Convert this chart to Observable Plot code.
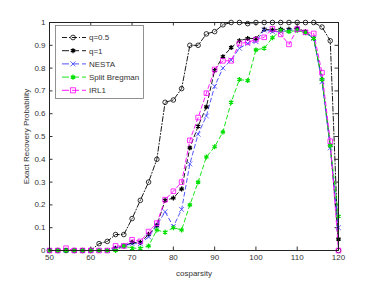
<!DOCTYPE html>
<html>
<head>
<meta charset="utf-8">
<script src="https://cdn.jsdelivr.net/npm/d3@7"></script>
<script src="https://cdn.jsdelivr.net/npm/@observablehq/plot@0.6"></script>
<style>
  html, body { margin: 0; padding: 0; background: white; }
</style>
</head>
<body>
<div id="chart"></div>
<script>
const cosparsity = [50,52,54,56,58,60,62,64,66,68,70,72,74,76,78,80,82,84,86,88,90,92,94,96,98,100,102,104,106,108,110,112,114,116,118,120];

const q05 = [0,0,0,0,0,0,0.03,0.04,0.07,0.07,0.14,0.22,0.30,0.40,0.65,0.66,0.71,0.90,0.90,0.95,0.96,0.99,1,1,0.995,1,1,1,1,1,1,1,1,0.98,0.92,0];
const q1 = [0,0,0,0,0,0,0,0,0.01,0.02,0.035,0.035,0.07,0.11,0.22,0.23,0.27,0.45,0.545,0.63,0.79,0.85,0.89,0.92,0.93,0.93,0.97,0.967,0.97,0.97,0.975,0.96,0.93,0.75,0.46,0.05];
const nesta = [0,0,0,0,0,0,0,0,0.01,0.02,0.03,0.03,0.06,0.11,0.17,0.105,0.18,0.38,0.51,0.59,0.72,0.80,0.835,0.887,0.908,0.916,0.967,0.96,0.96,0.965,0.97,0.955,0.93,0.74,0.45,0.1];
const splitBregman = [0,0,0,0,0,0,0,0,0,0.02,0.01,0.01,0.02,0.09,0.08,0.10,0.09,0.20,0.30,0.41,0.455,0.52,0.65,0.75,0.745,0.88,0.887,0.933,0.965,0.96,0.965,0.955,0.93,0.75,0.46,0.15];
const irl1 = [0,0,0.01,0,0,0,0,0,0.02,0.02,0.047,0.04,0.083,0.12,0.223,0.26,0.30,0.483,0.583,0.69,0.794,0.832,0.832,0.908,0.913,0.925,0.935,0.972,0.948,0.904,0.971,0.957,0.952,0.78,0.479,0];

const seriesNames = ["q=0.5", "q=1", "NESTA", "Split Bregman", "IRL1"];
const seriesValues = [q05, q1, nesta, splitBregman, irl1];
const seriesColors = ["#000000", "#000000", "#4040ff", "#00e000", "#ff00ff"];
const seriesSymbols = ["circle", "asterisk", "times", "asterisk", "square"];
const seriesDash = ["5,2,1,2", "4,3", "4,3", "4,3", "4,3"];

const xTicks = [50,60,70,80,90,100,110,120];
const yTicks = [0,0.1,0.2,0.3,0.4,0.5,0.6,0.7,0.8,0.9,1];
const yTickLabels = ["0","0.1","0.2","0.3","0.4","0.5","0.6","0.7","0.8","0.9","1"];

const rows = [];
seriesNames.forEach((name, i) => {
  cosparsity.forEach((c, j) => rows.push({series: name, idx: i, x: c, y: seriesValues[i][j]}));
});

const W = 374, H = 281;
const mTop = 22, mBottom = 31, mLeft = 49, mRight = 36;
const plotH = H - mTop - mBottom;
const plotW = W - mLeft - mRight;

const marks = [];
seriesNames.forEach((name, i) => {
  const data = rows.filter(r => r.idx === i);
  marks.push(Plot.line(data, {x: "x", y: "y", stroke: seriesColors[i], strokeWidth: 0.9, strokeDasharray: seriesDash[i]}));
});
seriesNames.forEach((name, i) => {
  const data = rows.filter(r => r.idx === i);
  marks.push(Plot.dot(data, {x: "x", y: "y", symbol: () => seriesSymbols[i], stroke: seriesColors[i], fill: "none", r: seriesSymbols[i] === "square" ? 2.6 : 2.3, strokeWidth: seriesSymbols[i] === "asterisk" ? 1.3 : 0.8}));
});

const chart = Plot.plot({
  width: W,
  height: H,
  marginTop: mTop,
  marginBottom: mBottom,
  marginLeft: mLeft,
  marginRight: mRight,
  style: {fontFamily: "Liberation Sans, Arial, sans-serif", fontSize: "8px", color: "#333", background: "white"},
  x: {domain: [50, 120], ticks: xTicks, tickSize: 0, tickPadding: 4, label: "cosparsity", labelArrow: "none", labelAnchor: "center", labelOffset: 25, tickFormat: d => String(d)},
  y: {domain: [0, 1], ticks: yTicks, tickSize: 0, tickPadding: 4, label: "Exact Recovery Probability", labelArrow: "none", labelAnchor: "center", labelOffset: 26, tickFormat: (d, i) => yTickLabels[i]},
  symbol: {type: "identity"},
  marks: [
    Plot.ruleX(xTicks, {x: d => d, stroke: "#333", insetTop: plotH - 3.5}),
    Plot.ruleX(xTicks, {x: d => d, stroke: "#333", insetBottom: plotH - 3.5}),
    Plot.ruleY(yTicks, {y: d => d, stroke: "#333", insetRight: plotW - 3.5}),
    Plot.ruleY(yTicks, {y: d => d, stroke: "#333", insetLeft: plotW - 3.5}),
    ...marks,
    Plot.frame({stroke: "#222", strokeWidth: 1})
  ]
});
document.getElementById("chart").appendChild(chart);

// Legend (MATLAB-style box, upper left)
const svg = d3.select(chart);
const lg = svg.append("g").attr("font-family", "Liberation Sans, Arial, sans-serif").attr("font-size", 8).attr("fill", "#333").attr("text-anchor", "start");
lg.append("rect").attr("x", 55.5).attr("y", 25.5).attr("width", 88).attr("height", 73).attr("fill", "white").attr("stroke", "#777").attr("stroke-width", 0.8);
seriesNames.forEach((name, i) => {
  const yy = 37.5 + i * 13.2;
  lg.append("line").attr("x1", 62).attr("x2", 86).attr("y1", yy).attr("y2", yy)
    .attr("stroke", seriesColors[i]).attr("stroke-width", 0.9).attr("stroke-dasharray", i === 0 ? "5,2,1,2" : "7,3");
  const sym = seriesSymbols[i] === "circle" ? d3.symbolCircle : seriesSymbols[i] === "square" ? d3.symbolSquare : seriesSymbols[i] === "times" ? d3.symbolTimes : d3.symbolAsterisk;
  const size = seriesSymbols[i] === "square" ? 26 : 18;
  lg.append("path").attr("d", d3.symbol(sym, size)()).attr("transform", `translate(73,${yy})`)
    .attr("fill", "none").attr("stroke", seriesColors[i]).attr("stroke-width", seriesSymbols[i] === "asterisk" ? 1.3 : 0.8);
  lg.append("text").attr("x", 89).attr("y", yy).attr("dy", "0.35em").attr("text-anchor", "start").text(name);
});
</script>
</body>
</html>
